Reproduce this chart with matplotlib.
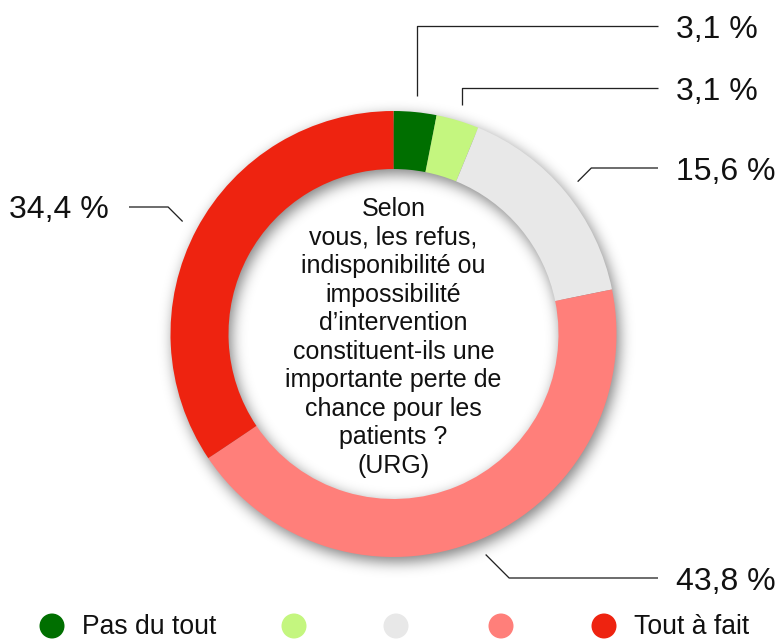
import numpy as np
import matplotlib
matplotlib.use("Agg")
import matplotlib.pyplot as plt

# Survey answers, from "Pas du tout" to "Tout à fait"
categories = ["Pas du tout", "", "", "", "Tout à fait"]
shares = [3.1, 3.1, 15.6, 43.8, 34.4]
colors = ["#006F00", "#C4F67F", "#E8E8E8", "#FF7F7A", "#EE2310"]
question = ["Selon", "vous, les refus,", "indisponibilité ou", "impossibilité",
            "d\u2019intervention", "constituent-ils une", "importante perte de",
            "chance pour les", "patients ?", "(URG)"]

W, H = 781, 641
FONT = "Liberation Sans"
PX = 72 / 100  # points per pixel at dpi 100


def Y(y):
    """Convert a top-down pixel row into the axes' bottom-up coordinate."""
    return H - y


fig = plt.figure(figsize=(W / 100, H / 100), dpi=100)
ax = fig.add_axes([0, 0, 1, 1])

# Ring geometry (pixels)
cx, cy = 393.5, 334.0
R_out, ring_w = 223.0, 58.0
R_in = R_out - ring_w

# Soft drop shadow under the ring, offset down/right and blurred
yy, xx = np.mgrid[0:H, 0:W].astype(float) + 0.5
ox, oy = 3.0, 5.0
d = np.hypot(xx - (cx + ox), yy - (cy + oy))
mask = np.clip(R_out - d + 0.5, 0, 1) * np.clip(d - R_in + 0.5, 0, 1)
sigma = 7.0
k = np.arange(-int(3 * sigma), int(3 * sigma) + 1)
kern = np.exp(-0.5 * (k / sigma) ** 2)
kern /= kern.sum()
blur = np.apply_along_axis(lambda r: np.convolve(r, kern, mode="same"), 1, mask)
blur = np.apply_along_axis(lambda c: np.convolve(c, kern, mode="same"), 0, blur)
shadow = np.zeros((H, W, 4))
shadow[..., 3] = 0.5 * blur
ax.imshow(shadow, extent=(0, W, 0, H), origin="upper", zorder=0,
          interpolation="bilinear")

# Donut
wedges, _ = ax.pie(shares, colors=colors, startangle=90, counterclock=False,
                   center=(cx, Y(cy)), radius=R_out,
                   wedgeprops=dict(width=ring_w, linewidth=0))
for w in wedges:
    w.set_zorder(2)

ax.set_xlim(0, W)
ax.set_ylim(0, H)
ax.set_aspect("auto")
ax.axis("off")

# Leader lines and value labels
cum = np.cumsum([0] + shares[:-1])
mids = [(c + s / 2) / 100 * 360 for c, s in zip(cum, shares)]
label_rows = [26, 88, 168, 578, 207]
line_style = dict(color="#222222", lw=1.0 * PX * 1.3, zorder=3,
                  solid_capstyle="butt")
r_anchor = R_out + 16
for i, (val, ang, ly) in enumerate(zip(shares, mids, label_rows)):
    th = np.deg2rad(ang)
    axp = cx + r_anchor * np.sin(th)
    ayp = cy - r_anchor * np.cos(th)
    txt = f"{val:.1f} %".replace(".", ",")
    right = np.sin(th) > 0
    if i < 2:
        xs = [axp, axp, 658]
        ys = [ayp, ly, ly]
    else:
        dy = abs(ayp - ly)
        ex = axp + dy if right else axp - dy
        xs = [axp, ex, 658 if right else 129]
        ys = [ayp, ly, ly]
    ax.plot(xs, [Y(v) for v in ys], **line_style)
    if right:
        ax.text(676, Y(ly + 11.5), txt, ha="left", va="baseline",
                fontsize=32 * PX, family=FONT, color="#111111")
    else:
        ax.text(109, Y(ly + 11.5), txt, ha="right", va="baseline",
                fontsize=32 * PX, family=FONT, color="#111111")

# Question in the middle of the ring
for j, line in enumerate(question):
    ax.text(cx, Y(216 + 28.55 * j), line, ha="center", va="baseline",
            fontsize=25 * PX, family=FONT, color="#111111", zorder=4)

# Legend row
legend_x = [52, 294, 396, 501, 604]
legend_y = 626
ax.scatter(legend_x, [Y(legend_y)] * len(legend_x), s=(25 * PX) ** 2,
           c=colors, linewidths=0, zorder=4, clip_on=False)
for x, lab in zip(legend_x, categories):
    if lab:
        ax.text(x + 30, Y(634.5), lab, ha="left", va="baseline",
                fontsize=26.5 * PX, family=FONT, color="#111111")

fig.savefig("out.png", dpi=100, facecolor="white")
